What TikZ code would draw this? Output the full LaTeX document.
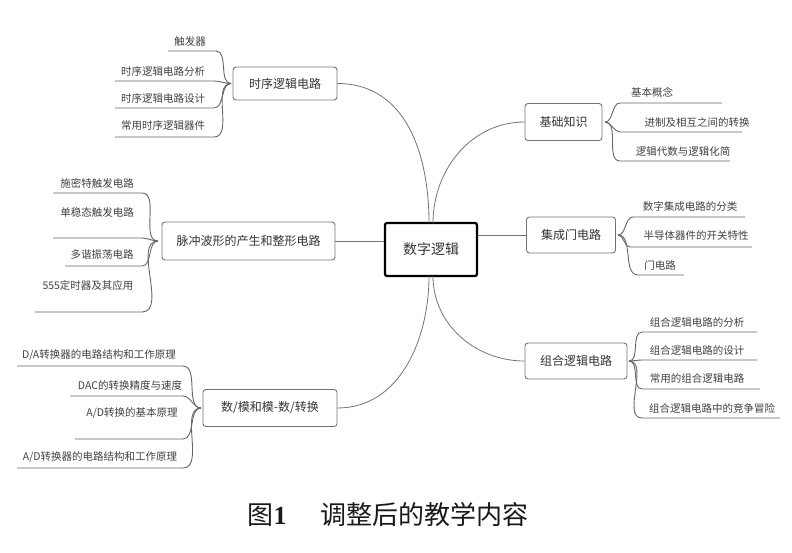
\documentclass[tikz,border=0pt]{standalone}
\usepackage{fontspec}
\setmainfont{Noto Sans CJK SC}
\newfontfamily\numserif{Liberation Serif}
\begin{document}
\begin{tikzpicture}[x=1pt,y=-1pt,
  box/.style={draw=black!55, line width=0.9pt, rounded corners=3pt, inner sep=0pt,
    font=\fontsize{12}{12}\selectfont, text=black!80},
  center/.style={draw=black, line width=2.2pt, rounded corners=2pt, inner sep=0pt,
    font=\fontsize{14}{14}\selectfont, text=black!80, minimum width=92pt, minimum height=53pt},
  leaf/.style={font=\fontsize{10.5}{10.5}\selectfont, text=black!75, inner sep=0pt},
  link/.style={draw=black!55, line width=0.8pt},
  uline/.style={draw=black!60, line width=0.9pt},
  caption/.style={font=\fontsize{26}{26}\selectfont, text=black!90}
]
\useasboundingbox (0,0) rectangle (792,552);

% center
\node[center] (c) at (431,249.5) {数字逻辑};

% ---- main boxes
\node[box, minimum width=104pt, minimum height=33pt] (b1) at (285,83.5) {时序逻辑电路};
\node[box, minimum width=173pt, minimum height=38pt] (b2) at (248.5,241) {脉冲波形的产生和整形电路};
\node[box, minimum width=134pt, minimum height=37pt] (b3) at (270,408) {数/模和模-数/转换};
\node[box, minimum width=77pt, minimum height=37pt] (b4) at (563.5,122) {基础知识};
\node[box, minimum width=89pt, minimum height=36pt] (b5) at (571,235) {集成门电路};
\node[box, minimum width=102pt, minimum height=36pt] (b6) at (576,361) {组合逻辑电路};

% ---- main connectors
\coordinate (ct1) at (429,223);
\coordinate (ct2) at (433,223);
\coordinate (cb1) at (429,276);
\coordinate (cb2) at (433,276);
\draw[link] (b1.east) to[out=0,in=90,looseness=1.05] (ct1);
\draw[link] (ct2) to[out=90,in=180,looseness=1.0] (b4.west);
\draw[link] (b2.east) -- (c.west |- b2.east);
\draw[link] (c.east |- b5.west) -- (b5.west);
\draw[link] (b3.east) to[out=0,in=-90,looseness=1.0] (cb1);
\draw[link] (cb2) to[out=-90,in=180,looseness=1.0] (b6.west);

% ---- group 1: 时序逻辑电路
\coordinate (g1) at (231,83.5);
\node[leaf] (l11) at (190,42) {触发器};
\node[leaf] (l12) at (163,71) {时序逻辑电路分析};
\node[leaf] (l13) at (163,98) {时序逻辑电路设计};
\node[leaf] (l14) at (163,126) {常用时序逻辑器件};
\coordinate (u11a) at (168,51); \coordinate (u11b) at (216,51);
\coordinate (u12a) at (115,81); \coordinate (u12b) at (214,81);
\coordinate (u13a) at (115,108); \coordinate (u13b) at (214,108);
\coordinate (u14a) at (115,137); \coordinate (u14b) at (214,137);
\foreach \i in {11,12,13,14}{
  \draw[uline] (u\i a) -- (u\i b) to[out=0,in=180,looseness=0.9] (g1);
}

% ---- group 2: 脉冲
\coordinate (g2) at (158,241);
\node[leaf] (l21) at (97,183) {施密特触发电路};
\node[leaf] (l22) at (97,212) {单稳态触发电路};
\node[leaf] (l23) at (102,255) {多谐振荡电路};
\node[leaf] (l24) at (88,285) {555定时器及其应用};
\coordinate (u21a) at (53,193); \coordinate (u21b) at (142,193);
\coordinate (u22a) at (53,238); \coordinate (u22b) at (142,238);
\coordinate (u23a) at (65,266); \coordinate (u23b) at (142,266);
\coordinate (u24a) at (35,312); \coordinate (u24b) at (142,312);
\foreach \i in {21,22,23,24}{
  \draw[uline] (u\i a) -- (u\i b) to[out=0,in=180,looseness=0.9] (g2);
}

% ---- group 3: 数/模
\coordinate (g3) at (201,408);
\node[leaf] (l31) at (99,355) {D/A转换器的电路结构和工作原理};
\node[leaf] (l32) at (130,385) {DAC的转换精度与速度};
\node[leaf] (l33) at (132,413) {A/D转换的基本原理};
\node[leaf] (l34) at (100,457) {A/D转换器的电路结构和工作原理};
\coordinate (u31a) at (17,366); \coordinate (u31b) at (183,366);
\coordinate (u32a) at (70,396); \coordinate (u32b) at (183,396);
\coordinate (u33a) at (75,439); \coordinate (u33b) at (183,439);
\coordinate (u34a) at (17,468); \coordinate (u34b) at (183,468);
\foreach \i in {31,32,33,34}{
  \draw[uline] (u\i a) -- (u\i b) to[out=0,in=180,looseness=0.9] (g3);
}

% ---- group 4: 基础知识
\coordinate (g4) at (605,122);
\node[leaf] (l41) at (652,92) {基本概念};
\node[leaf] (l42) at (697,122) {进制及相互之间的转换};
\node[leaf] (l43) at (683,152) {逻辑代数与逻辑化简};
\coordinate (u41a) at (620,103); \coordinate (u41b) at (722,103);
\coordinate (u42a) at (620,132); \coordinate (u42b) at (742,132);
\coordinate (u43a) at (620,161); \coordinate (u43b) at (730,161);
\foreach \i in {41,42,43}{
  \draw[uline] (g4) to[out=0,in=180,looseness=0.9] (u\i a) -- (u\i b);
}

% ---- group 5: 集成门电路
\coordinate (g5) at (618,235);
\node[leaf] (l51) at (690,207) {数字集成电路的分类};
\node[leaf] (l52) at (696,236) {半导体器件的开关特性};
\node[leaf] (l53) at (660,265) {门电路};
\coordinate (u51a) at (633,217); \coordinate (u51b) at (745,217);
\coordinate (u52a) at (630,247); \coordinate (u52b) at (752,247);
\coordinate (u53a) at (638,275); \coordinate (u53b) at (684,275);
\foreach \i in {51,52,53}{
  \draw[uline] (g5) to[out=0,in=180,looseness=0.9] (u\i a) -- (u\i b);
}

% ---- group 6: 组合逻辑电路
\coordinate (g6) at (629,361);
\node[leaf] (l61) at (697,322) {组合逻辑电路的分析};
\node[leaf] (l62) at (697,350) {组合逻辑电路的设计};
\node[leaf] (l63) at (697,379) {常用的组合逻辑电路};
\node[leaf] (l64) at (712,408) {组合逻辑电路中的竞争冒险};
\coordinate (u61a) at (642,332); \coordinate (u61b) at (757,332);
\coordinate (u62a) at (642,360); \coordinate (u62b) at (757,360);
\coordinate (u63a) at (642,389); \coordinate (u63b) at (760,389);
\coordinate (u64a) at (642,418); \coordinate (u64b) at (780,418);
\foreach \i in {61,62,63,64}{
  \draw[uline] (g6) to[out=0,in=180,looseness=0.9] (u\i a) -- (u\i b);
}

% ---- caption
\node[caption, anchor=west] (cap1) at (244,515) {图{\numserif\bfseries 1}};
\node[caption, anchor=west] (cap2) at (317,515) {调整后的教学内容};
\end{tikzpicture}
\end{document}
